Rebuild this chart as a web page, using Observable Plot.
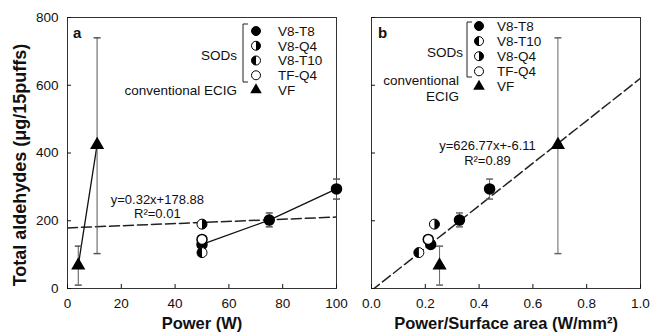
<!DOCTYPE html>
<html><head><meta charset="utf-8">
<script src="https://cdn.jsdelivr.net/npm/d3@7"></script>
<script src="https://cdn.jsdelivr.net/npm/@observablehq/plot@0.6"></script>
<style>
body{margin:0;background:#fff;}
#wrap{position:relative;width:651px;height:336px;font-family:"Liberation Sans",Arial,sans-serif;}
#wrap > svg{position:absolute;top:0;overflow:visible;}
</style></head><body><div id="wrap"></div>
<script>
// ---- data ----
const device = ["V8-T8","V8-T8","V8-T8","V8-Q4","V8-T10","TF-Q4","VF","VF"];
const power = [50,75,100,50,50,50,4,11];
const powerPerArea = [0.22,0.327,0.439,0.234,0.176,0.211,0.253,0.693];
const aldehydes = [130,202,294,190,106,145,68,424];
const errLow = [null,182,264,null,null,null,10,103];
const errHigh = [null,223,323,null,null,null,125,740];
const fitSlope = [0.32, 626.77];
const fitIntercept = [178.88, -6.11];
const fitLabel = ["y=0.32x+178.88", "y=626.77x+-6.11"];
const r2Label = ["R\u00B2=0.01", "R\u00B2=0.89"];
const legendA = ["V8-T8","V8-Q4","V8-T10","TF-Q4","VF"];
const legendB = ["V8-T8","V8-T10","V8-Q4","TF-Q4","VF"];
const ticksA = [0,20,40,60,80,100];
const ticksB = [0,0.2,0.4,0.6,0.8,1.0];
const ticksY = [0,200,400,600,800];

const rows = device.map((d,i)=>({device:d, power:power[i], ppa:powerPerArea[i], y:aldehydes[i], lo:errLow[i], hi:errHigh[i]}));

// ---- symbols ----
const halfRight = {draw(ctx,size){const r=Math.sqrt(size/Math.PI); ctx.moveTo(0,-r); ctx.arc(0,0,r,-Math.PI/2,Math.PI/2); ctx.closePath();}};
const halfLeft = {draw(ctx,size){const r=Math.sqrt(size/Math.PI); ctx.moveTo(0,r); ctx.arc(0,0,r,Math.PI/2,Math.PI*1.5); ctx.closePath();}};
const capSym = {draw(ctx,size){ctx.moveTo(-3.5,0); ctx.lineTo(3.5,0);}};
const R = 5;
const RT = 4.3;
const font = "Liberation Sans, Arial, sans-serif";

function pointMarks(xKey){
  const m = [];
  const sel = n => rows.filter(d=>d.device===n);
  m.push(Plot.dot(sel("V8-T8"), {x:xKey, y:"y", r:R, fill:"#000", stroke:"#000"}));
  for (const [n,half] of [["V8-Q4",halfRight],["V8-T10",halfLeft]]) {
    m.push(Plot.dot(sel(n), {x:xKey, y:"y", r:R, fill:"#fff", stroke:"#000", strokeWidth:1}));
    m.push(Plot.dot(sel(n), {x:xKey, y:"y", r:R, symbol:half, fill:"#000", stroke:"none"}));
  }
  m.push(Plot.dot(sel("TF-Q4"), {x:xKey, y:"y", r:R, fill:"#fff", stroke:"#000"}));
  m.push(Plot.dot(sel("VF"), {x:xKey, y:"y", r:RT, symbol:"triangle", fill:"#000", stroke:"#000"}));
  return m;
}
function errMarks(xKey, color){
  const e = rows.filter(d=>d.lo!=null);
  return [
    Plot.ruleX(e, {x:xKey, y1:"lo", y2:"hi", stroke:color, strokeWidth:1}),
    Plot.dot(e, {x:xKey, y:"lo", symbol:capSym, r:3, stroke:color, fill:"none"}),
    Plot.dot(e, {x:xKey, y:"hi", symbol:capSym, r:3, stroke:color, fill:"none"})
  ];
}
function fitLine(k, domain){
  return domain.map(x=>({x, y: fitSlope[k]*x + fitIntercept[k]}));
}
function legendMark(labels, o){
  return () => {
    const g = d3.create("svg:g").attr("font-family", font).attr("font-size", 13.5).attr("fill","#111");
    const sym = (n, x, y) => {
      if (n === "VF") {
        g.append("path").attr("transform",`translate(${x},${y})`).attr("d", d3.symbol(d3.symbolTriangle, Math.PI*RT*RT)()).attr("fill","#000");
        return;
      }
      const full = n === "V8-T8";
      g.append("circle").attr("cx",x).attr("cy",y).attr("r",R-0.5).attr("fill", full?"#000":"#fff").attr("stroke","#000");
      if (n==="V8-Q4") g.append("path").attr("transform",`translate(${x},${y})`).attr("d", d3.symbol(halfRight, Math.PI*(R-0.5)**2)()).attr("fill","#000");
      if (n==="V8-T10") g.append("path").attr("transform",`translate(${x},${y})`).attr("d", d3.symbol(halfLeft, Math.PI*(R-0.5)**2)()).attr("fill","#000");
    };
    labels.forEach((n,i)=>{
      const y = o.y0 + i*o.dy;
      sym(n, o.sx, y);
      g.append("text").attr("x", o.tx).attr("y", y).attr("dy","0.36em").attr("text-anchor","start").text(n);
    });
    g.append("path").attr("d", `M${o.bx+5},${o.b0}H${o.bx}V${o.b1}H${o.bx+5}`).attr("fill","none").attr("stroke","#222").attr("stroke-width",1);
    o.side.forEach(([t,x,y])=>g.append("text").attr("x",x).attr("y",y).attr("dy","0.36em").attr("text-anchor","end").text(t));
    g.append("text").attr("x", o.lx).attr("y", o.ly).attr("dy","0.36em").attr("text-anchor","start").attr("font-weight","bold").attr("font-size",15).text(o.letter);
    return g.node();
  };
}

const common = {
  height: 336, marginTop: 17, marginBottom: 48,
  y: {domain:[0,800]},
  style: {fontFamily: font, fontSize: "13px", color:"#111", background:"transparent", overflow:"visible"}
};

const plotA = Plot.plot({
  ...common, width: 340, marginLeft: 67, marginRight: 4,
  x: {domain:[0,100]},
  marks: [
    Plot.frame({stroke:"#333"}),
    Plot.axisX({ticks:ticksA, tickSize:-4, tickPadding:14, label:null, fontSize:13.5}),
    Plot.axisY({ticks:ticksY, tickSize:-4, tickPadding:13, label:null, fontSize:13.5}),
    Plot.text(["Power (W)"], {frameAnchor:"bottom", dy:40, fontWeight:"bold", fontSize:16.5}),
    Plot.text(["Total aldehydes (\u03BCg/15puffs)"], {frameAnchor:"left", textAnchor:"middle", dx:-47, dy:12, rotate:-90, fontWeight:"bold", fontSize:18}),
    Plot.line(fitLine(0,[0,100]), {x:"x", y:"y", stroke:"#222", strokeDasharray:"10,4", clip:true}),
    Plot.line(rows.filter(d=>d.device==="V8-T8"), {x:"power", y:"y", stroke:"#111", strokeWidth:1.3}),
    Plot.line(rows.filter(d=>d.device==="VF"), {x:"power", y:"y", stroke:"#111", strokeWidth:1.3}),
    ...errMarks("power", "#555"),
    ...pointMarks("power"),
    Plot.text([fitLabel[0]], {x:33.4, y:262, fontSize:13}),
    Plot.text([r2Label[0]], {x:33.4, y:221, fontSize:13}),
    legendMark(legendA, {sx:256, tx:278, y0:31, dy:14.75, bx:243, b0:24, b1:82,
      side:[["SODs",237,55],["conventional ECIG",237,90.5]], letter:"a", lx:73, ly:33})
  ]
});

const plotB = Plot.plot({
  ...common, width: 315, marginLeft: 35, marginRight: 11,
  x: {domain:[0,1]},
  marks: [
    Plot.frame({stroke:"#333"}),
    Plot.axisX({ticks:ticksB, tickSize:-4, tickPadding:14, tickFormat:d3.format(".1f"), label:null, fontSize:13.5}),
    Plot.axisY({ticks:ticksY, tickSize:-4, tickFormat:()=>"", label:null}),
    Plot.text(["Power/Surface area (W/mm\u00B2)"], {frameAnchor:"bottom", dy:40, fontWeight:"bold", fontSize:16.5}),
    Plot.line(fitLine(1,[0,1]), {x:"x", y:"y", stroke:"#222", strokeDasharray:"10,4", clip:true}),
    ...errMarks("ppa", "#666"),
    ...pointMarks("ppa"),
    Plot.text([fitLabel[1]], {x:0.431, y:422, fontSize:13}),
    Plot.text([r2Label[1]], {x:0.431, y:378, fontSize:13}),
    legendMark(legendB, {sx:143, tx:161, y0:26, dy:15.1, bx:131, b0:22, b1:77,
      side:[["SODs",127,51.7],["conventional",123,80],["ECIG",123,95.7]], letter:"b", lx:42, ly:33})
  ]
});

const wrap = document.getElementById("wrap");
plotA.style.left = "0px";
plotB.style.left = "336px";
wrap.append(plotA, plotB);
</script>
</body></html>
